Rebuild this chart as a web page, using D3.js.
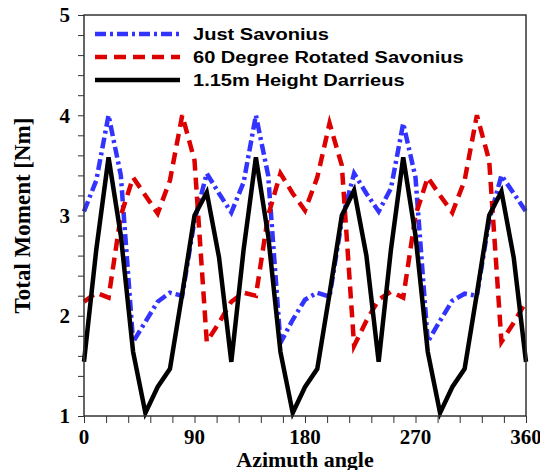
<!DOCTYPE html>
<html>
<head>
<meta charset="utf-8">
<script src="https://cdn.jsdelivr.net/npm/d3@7"></script>
<style>
  body { margin: 0; background: #fff; }
  .tick-label { font-family: "Liberation Serif", "Times New Roman", serif; font-weight: bold; }
  .legend-text { font-family: "Liberation Sans", Arial, sans-serif; font-weight: bold; }
</style>
</head>
<body>
<svg id="chart" width="540" height="470"></svg>
<script>
var angles = [0, 10, 20, 30, 40, 50, 60, 70, 80, 90, 100, 110, 120, 130, 140, 150, 160, 170, 180,
  190, 200, 210, 220, 230, 240, 250, 260, 270, 280, 290, 300, 310, 320, 330, 340, 350, 360];

var just_savonius = [3.04, 3.35, 4.0, 3.4, 1.74, 1.94, 2.14, 2.23, 2.2, 2.95, 3.42, 3.22, 3.03,
  3.33, 4.0, 3.4, 1.73, 1.96, 2.16, 2.23, 2.19, 2.95, 3.42, 3.22, 3.04,
  3.27, 3.92, 3.38, 1.74, 1.95, 2.15, 2.22, 2.2, 2.95, 3.4, 3.22, 3.04];

var rotated_savonius = [2.14, 2.23, 2.18, 3.0, 3.38, 3.2, 3.02, 3.35, 4.0, 3.55, 1.74, 1.93, 2.14,
  2.23, 2.2, 3.0, 3.42, 3.22, 3.05, 3.38, 3.92, 3.5, 1.7, 1.95, 2.16,
  2.24, 2.18, 3.0, 3.38, 3.2, 3.03, 3.35, 4.0, 3.55, 1.74, 1.93, 2.14];

var darrieus = [1.54, 2.66, 3.58, 2.8, 1.64, 1.03, 1.29, 1.47, 2.22, 3.0, 3.23, 2.58, 1.54,
  2.66, 3.58, 2.8, 1.64, 1.03, 1.29, 1.47, 2.22, 3.0, 3.25, 2.6, 1.54,
  2.66, 3.58, 2.8, 1.64, 1.03, 1.29, 1.47, 2.22, 3.0, 3.24, 2.58, 1.54];

var series_names = ["Just Savonius", "60 Degree Rotated Savonius", "1.15m Height Darrieus"];
var x_ticks = [0, 90, 180, 270, 360];
var y_ticks = [1, 2, 3, 4, 5];

var svg = d3.select("#chart");

var margin = {left: 84, right: 14, top: 15, bottom: 54};
var width = 540, height = 470;

var x = d3.scaleLinear()
    .domain([0, 360])
    .range([margin.left, width - margin.right]);

var y = d3.scaleLinear()
    .domain([1, 5])
    .range([height - margin.bottom, margin.top]);

var series = [
  {name: series_names[0], values: just_savonius, color: "#3333ff", dash: "11,4,3,4"},
  {name: series_names[1], values: rotated_savonius, color: "#dd0000", dash: "12,7"},
  {name: series_names[2], values: darrieus, color: "#000000", dash: null}
];

var line = d3.line()
    .x((d, i) => x(angles[i]))
    .y(d => y(d));

// minor ticks
var x_minor = d3.range(0, 361, 18);
var y_minor = d3.range(1, 5.001, 0.2);

svg.append("g")
    .attr("transform", "translate(0," + y(1) + ")")
    .call(d3.axisBottom(x).tickValues(x_minor).tickSize(7).tickFormat(""))
    .call(g => g.select(".domain").remove())
    .selectAll("line").attr("stroke", "#333");

svg.append("g")
    .attr("transform", "translate(" + x(0) + ",0)")
    .call(d3.axisLeft(y).tickValues(y_minor).tickSize(6).tickFormat(""))
    .call(g => g.select(".domain").remove())
    .selectAll("line").attr("stroke", "#333");

// tick labels
svg.append("g").selectAll("text")
    .data(x_ticks)
  .enter().append("text")
    .attr("class", "tick-label")
    .attr("x", d => x(d))
    .attr("y", 444)
    .attr("text-anchor", "middle")
    .style("font-size", "21px")
    .text(d => d);

svg.append("g").selectAll("text")
    .data(y_ticks)
  .enter().append("text")
    .attr("class", "tick-label")
    .attr("x", 70)
    .attr("y", d => y(d))
    .attr("dy", "0.35em")
    .attr("text-anchor", "end")
    .style("font-size", "21px")
    .text(d => d);

// series
series.forEach(s => {
  svg.append("path")
      .datum(s.values)
      .attr("d", line)
      .attr("fill", "none")
      .attr("stroke", s.color)
      .attr("stroke-width", 4.5)
      .attr("stroke-dasharray", s.dash)
      .attr("stroke-linejoin", "miter");
});

// frame
svg.append("rect")
    .attr("x", x(0))
    .attr("y", y(5))
    .attr("width", x(360) - x(0))
    .attr("height", y(1) - y(5))
    .attr("fill", "none")
    .attr("stroke", "#333")
    .attr("stroke-width", 1.5);

// legend
var legend = svg.append("g").selectAll("g")
    .data(series)
  .enter().append("g")
    .attr("transform", (d, i) => "translate(0," + (34 + i * 23) + ")");

legend.append("line")
    .attr("x1", 95).attr("x2", 180)
    .attr("stroke", d => d.color)
    .attr("stroke-width", 4.5)
    .attr("stroke-dasharray", d => d.dash);

legend.append("text")
    .attr("class", "legend-text")
    .attr("transform", "translate(193,0) scale(1.18,1)")
    .attr("dy", "0.36em")
    .style("font-size", "17px")
    .text(d => d.name);

// axis titles
svg.append("text")
    .attr("class", "tick-label")
    .attr("x", x(180))
    .attr("y", 467)
    .attr("text-anchor", "middle")
    .style("font-size", "22px")
    .text("Azimuth angle");

svg.append("text")
    .attr("class", "tick-label")
    .attr("transform", "translate(30," + y(3) + ") rotate(-90)")
    .attr("text-anchor", "middle")
    .style("font-size", "23px")
    .text("Total Moment [Nm]");
</script>
</body>
</html>
